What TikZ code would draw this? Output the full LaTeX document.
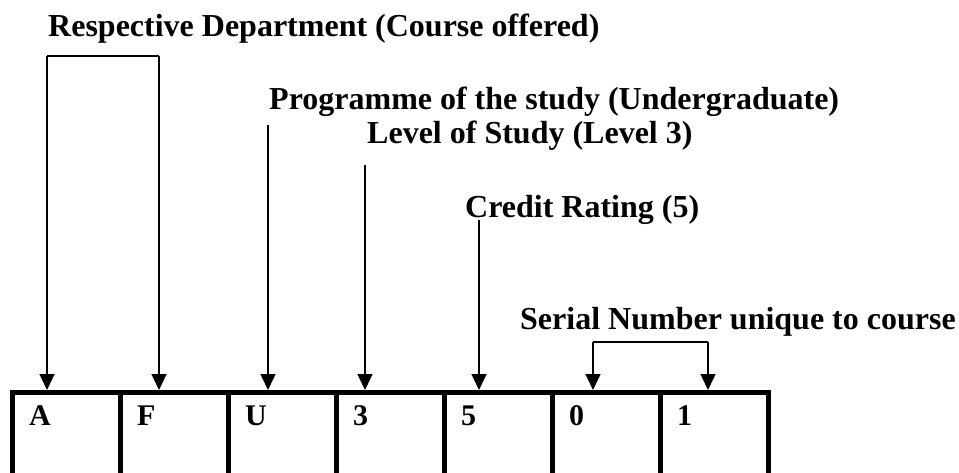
\documentclass[tikz,border=0pt]{standalone}
\usepackage{fontspec}
\setmainfont{Liberation Serif}
\usepackage{tikz}
\usetikzlibrary{arrows.meta, positioning, calc}
\tikzset{
  codelabel/.style={anchor=base west, inner sep=0pt,
                    font=\fontsize{32}{38}\selectfont\bfseries},
  codecell/.style={draw, line width=5pt, anchor=north west, outer sep=0pt,
                   minimum width=108pt, minimum height=140pt},
  codechar/.style={anchor=base west, inner sep=0pt,
                   font=\fontsize{30}{36}\selectfont\bfseries},
  pointer/.style={line width=1.5pt, shorten >=2.5pt,
                  -{Triangle[length=16pt, width=15pt]}},
  bracketline/.style={line width=1.5pt}
}

\begin{document}
\begin{tikzpicture}[x=1pt, y=-1pt]
\useasboundingbox (0,0) rectangle (959,472);
\clip (0,0) rectangle (959,472);

% labels
\node[codelabel] (dept)   at (48,36)  {Respective Department (Course offered)};
\node[codelabel] (prog)   at (269,109) {Programme of the study (Undergraduate)};
\node[codelabel] (level)  at (367,143) {Level of Study (Level 3)};
\node[codelabel] (credit) at (465,217) {Credit Rating (5)};
\node[codelabel] (serial) at (520,329) {Serial Number unique to course};

% course code cells
\foreach \ch [count=\i from 0] in {A,F,U,3,5,0,1} {
  \node[codecell] (cell\i) at (12+108*\i,392.5) {};
  \node[codechar] (char\i) at ($(cell\i.north west)+(17,33)$) {\ch};
}

% pointers
\coordinate (deptL) at (47,56);
\coordinate (deptR) at (159,56);
\draw[bracketline] (deptL) -- (deptR);
\draw[pointer] (deptL) -- (deptL |- cell0.north);
\draw[pointer] (deptR) -- (deptR |- cell1.north);

\coordinate (progTop) at (268,125);
\draw[pointer] (progTop) -- (progTop |- cell2.north);

\coordinate (levelTop) at (365,165);
\draw[pointer] (levelTop) -- (levelTop |- cell3.north);

\coordinate (creditTop) at (479,220);
\draw[pointer] (creditTop) -- (creditTop |- cell4.north);

\coordinate (serialL) at (593,342);
\coordinate (serialR) at (708,342);
\draw[bracketline] (serialL) -- (serialR);
\draw[pointer] (serialL) -- (serialL |- cell5.north);
\draw[pointer] (serialR) -- (serialR |- cell6.north);
\end{tikzpicture}
\end{document}
